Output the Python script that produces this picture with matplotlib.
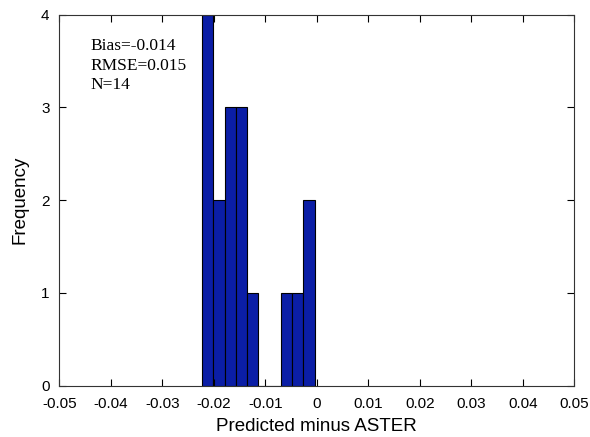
import numpy as np
import matplotlib
matplotlib.use('Agg')
import matplotlib.pyplot as plt

# histogram of differences (bin centres and counts)
bin_centres = [-0.02119, -0.01900, -0.01682, -0.01463, -0.01245,
               -0.01026, -0.00808, -0.00589, -0.00371, -0.00152]
counts = [4, 2, 3, 3, 1, 0, 0, 1, 1, 2]
bin_width = 0.002186

x_ticks = [-0.05, -0.04, -0.03, -0.02, -0.01, 0, 0.01, 0.02, 0.03, 0.04, 0.05]
x_labels = ['-0.05', '-0.04', '-0.03', '-0.02', '-0.01', '0',
            '0.01', '0.02', '0.03', '0.04', '0.05']
y_ticks = [0, 1, 2, 3, 4]

stats_text = 'Bias=-0.014\nRMSE=0.015\nN=14'

plt.rcParams['font.family'] = 'Liberation Sans'

fig = plt.figure(figsize=(5.9, 4.37), dpi=100)
ax = fig.add_axes([59.3 / 590, 1 - 385.7 / 437, (574.3 - 59.3) / 590, (385.7 - 14.7) / 437])

ax.bar(bin_centres, counts, width=bin_width, color='#0b1ea6',
       edgecolor='black', linewidth=0.8)

ax.set_xlim(-0.05, 0.05)
ax.set_ylim(0, 4)
ax.set_xticks(x_ticks)
ax.set_xticklabels(x_labels)
ax.set_yticks(y_ticks)
ax.tick_params(direction='in', top=True, right=True, length=5, width=0.8,
               labelsize=11)
ax.tick_params(axis='x', pad=8)
ax.tick_params(axis='y', pad=7)
for s in ax.spines.values():
    s.set_linewidth(0.8)
    s.set_color('#333333')

ax.set_xlabel('Predicted minus ASTER', fontsize=13.5, labelpad=5)
ax.set_ylabel('Frequency', fontsize=13.5, labelpad=9)

ax.text(0.06, 0.937, stats_text, transform=ax.transAxes, fontsize=12.5,
        family='Liberation Serif', va='top', ha='left', linespacing=1.3)

fig.savefig('out.png', dpi=100)
